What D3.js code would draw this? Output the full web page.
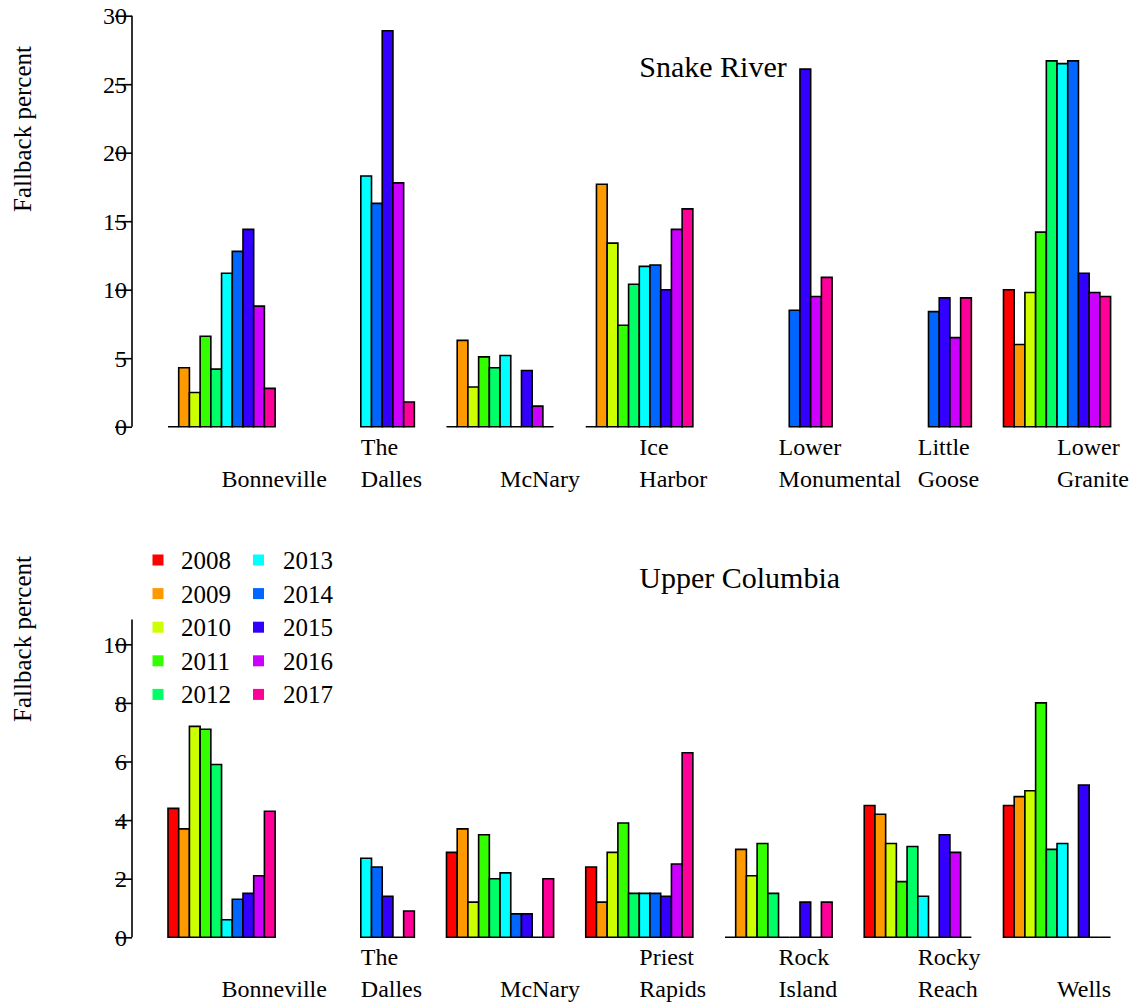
<!DOCTYPE html>
<html>
<head>
<meta charset="utf-8">
<script src="https://cdn.jsdelivr.net/npm/d3@7"></script>
<style>
  html, body { margin: 0; padding: 0; background: #fff; }
  svg text { font-family: "Liberation Serif", "Times New Roman", serif; fill: #000; }
</style>
</head>
<body>
<svg id="chart" width="1137" height="1006"></svg>
<script>
// ---------------- DATA ----------------
const years = ["2008","2009","2010","2011","2012","2013","2014","2015","2016","2017"];
const yearColors = ["#FF0000","#FF9900","#CCFF00","#33FF00","#00FF66","#00FFFF","#0066FF","#3300FF","#CC00FF","#FF0099"];

const snakeTitle = "Snake River";
const snakeDams = ["\nBonneville", "The\nDalles", "\nMcNary", "Ice\nHarbor", "Lower\nMonumental", "Little\nGoose", "Lower\nGranite"];
const snakeBonneville   = [0, 4.3, 2.5, 6.6, 4.2, 11.2, 12.8, 14.4, 8.8, 2.8];
const snakeTheDalles    = [null, null, null, null, null, 18.3, 16.3, 28.9, 17.8, 1.8];
const snakeMcNary       = [0, 6.3, 2.9, 5.1, 4.3, 5.2, 0, 4.1, 1.5, 0];
const snakeIceHarbor    = [0, 17.7, 13.4, 7.4, 10.4, 11.7, 11.8, 10.0, 14.4, 15.9];
const snakeLowerMon     = [null, null, null, null, null, null, 8.5, 26.1, 9.5, 10.9];
const snakeLittleGoose  = [null, null, null, null, null, null, 8.4, 9.4, 6.5, 9.4];
const snakeLowerGranite = [10.0, 6.0, 9.8, 14.2, 26.7, 26.5, 26.7, 11.2, 9.8, 9.5];
const snakeValues = [snakeBonneville, snakeTheDalles, snakeMcNary, snakeIceHarbor, snakeLowerMon, snakeLittleGoose, snakeLowerGranite];
const snakeTicks = [0, 5, 10, 15, 20, 25, 30];

const columbiaTitle = "Upper Columbia";
const columbiaDams = ["\nBonneville", "The\nDalles", "\nMcNary", "Priest\nRapids", "Rock\nIsland", "Rocky\nReach", "\nWells"];
const colBonneville   = [4.4, 3.7, 7.2, 7.1, 5.9, 0.6, 1.3, 1.5, 2.1, 4.3];
const colTheDalles    = [null, null, null, null, null, 2.7, 2.4, 1.4, 0, 0.9];
const colMcNary       = [2.9, 3.7, 1.2, 3.5, 2.0, 2.2, 0.8, 0.8, 0, 2.0];
const colPriestRapids = [2.4, 1.2, 2.9, 3.9, 1.5, 1.5, 1.5, 1.4, 2.5, 6.3];
const colRockIsland   = [0, 3.0, 2.1, 3.2, 1.5, 0, 0, 1.2, 0, 1.2];
const colRockyReach   = [4.5, 4.2, 3.2, 1.9, 3.1, 1.4, 0, 3.5, 2.9, 0];
const colWells        = [4.5, 4.8, 5.0, 8.0, 3.0, 3.2, 0, 5.2, 0, 0];
const columbiaValues = [colBonneville, colTheDalles, colMcNary, colPriestRapids, colRockIsland, colRockyReach, colWells];
const columbiaTicks = [0, 2, 4, 6, 8, 10];

const yLabel = "Fallback percent";

// ---------------- LAYOUT ----------------
const svg = d3.select("#chart");
const axisX = 132;
const fontSize = 24;

function drawPanel(cfg) {
  const g = svg.append("g");
  const x = d3.scaleBand().domain(cfg.dams.map((d, i) => i))
    .range([168, 1110.6]).paddingInner(3 / 13).paddingOuter(0);
  const xi = d3.scaleBand().domain(years).range([0, x.bandwidth()]).padding(0);
  const y = d3.scaleLinear().domain(cfg.domain).range(cfg.range);

  // bars
  cfg.values.forEach((vals, gi) => {
    vals.forEach((v, yi) => {
      if (v === null) return;
      const x0 = x(gi) + xi(years[yi]);
      const w = xi.bandwidth();
      const y0 = y(0), y1 = y(v);
      g.append("path")
        .attr("d", `M${x0},${y0}H${x0 + w}V${y1}H${x0}Z`)
        .attr("fill", yearColors[yi])
        .attr("stroke", "#000")
        .attr("stroke-width", 1.6)
        .attr("stroke-linejoin", "miter");
    });
  });

  // y axis
  const axis = d3.axisLeft(y).tickValues(cfg.ticks).tickSize(17).tickPadding(-12).tickFormat(d3.format("d"));
  const ax = g.append("g").attr("transform", `translate(${axisX},0)`).call(axis);
  ax.select(".domain").remove();
  ax.append("line").attr("x1", 0).attr("x2", 0)
    .attr("y1", y(0)).attr("y2", y(cfg.axisTop))
    .attr("stroke", "#000").attr("stroke-width", 1.6);
  ax.selectAll(".tick line").attr("stroke", "#000").attr("stroke-width", 1.6);
  ax.selectAll(".tick text")
    .attr("font-size", fontSize)
    .attr("font-family", "'Liberation Serif', 'Times New Roman', serif")
    .attr("fill", "#000")
    .attr("dy", "0.34em");

  // y label
  g.append("text")
    .attr("transform", `translate(31,${cfg.ylabCenter}) rotate(-90)`)
    .attr("text-anchor", "middle")
    .attr("font-size", 25)
    .text(yLabel);

  // x labels (left-aligned at group centre, two lines)
  cfg.dams.forEach((lab, gi) => {
    const lines = lab.split("\n");
    const cx = x(gi) + x.bandwidth() / 2;
    lines.forEach((ln, li) => {
      if (!ln) return;
      g.append("text")
        .attr("x", cx)
        .attr("y", y(0) + 28 + li * 32)
        .attr("text-anchor", "start")
        .attr("font-size", fontSize)
        .text(ln);
    });
  });

  // title
  g.append("text")
    .attr("x", x(3) + x.bandwidth() / 2)
    .attr("y", cfg.titleY)
    .attr("font-size", 30)
    .text(cfg.title);
  return g;
}

drawPanel({
  dams: snakeDams, values: snakeValues, ticks: snakeTicks,
  domain: [0, 30], range: [426.7, 15.7], axisTop: 30,
  ylabCenter: 129, title: snakeTitle, titleY: 77
});

drawPanel({
  dams: columbiaDams, values: columbiaValues, ticks: columbiaTicks,
  domain: [0, 10], range: [937.3, 644.3], axisTop: 10.85,
  ylabCenter: 639, title: columbiaTitle, titleY: 588
});

// legend
const legend = svg.append("g");
years.forEach((yr, i) => {
  const col = Math.floor(i / 5), row = i % 5;
  const cx = 158 + col * 100.5;
  const cy = 560 + row * 33.6;
  legend.append("rect")
    .attr("x", cx - 5.5).attr("y", cy - 5.5)
    .attr("width", 11).attr("height", 11)
    .attr("fill", yearColors[i]);
  legend.append("text")
    .attr("x", 181 + col * 102)
    .attr("y", cy)
    .attr("dy", "0.36em")
    .attr("font-size", 25)
    .text(yr);
});
</script>
</body>
</html>
